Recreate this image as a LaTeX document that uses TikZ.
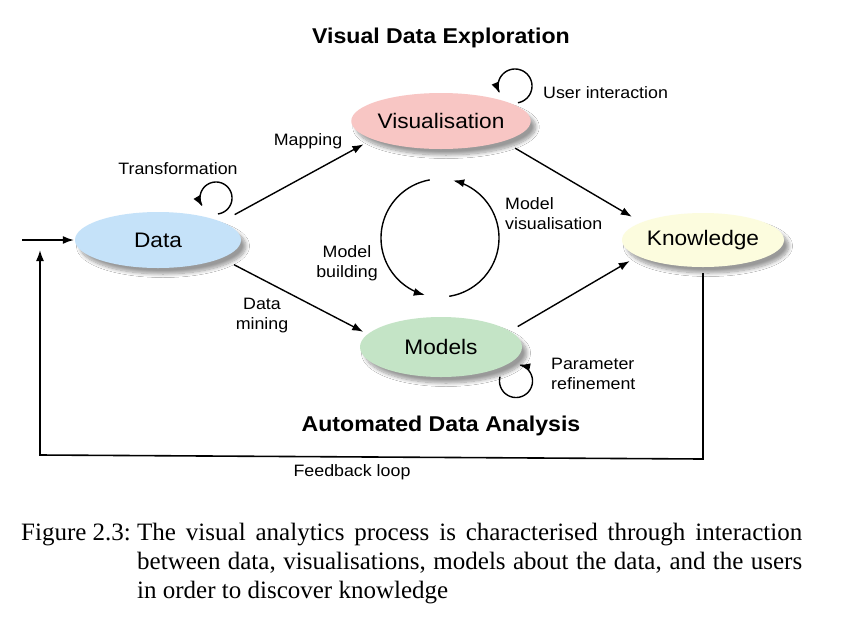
\documentclass[tikz,border=0pt]{standalone}
\usepackage{fontspec}
\setmainfont{Liberation Serif}
\newfontfamily\sansf[FakeStretch=1.08]{Liberation Sans}
\usetikzlibrary{arrows.meta,shapes.geometric,shadows.blur}
\definecolor{datac}{RGB}{197,226,249}
\definecolor{visc}{RGB}{248,198,196}
\definecolor{modc}{RGB}{196,228,198}
\definecolor{knc}{RGB}{252,252,222}
\begin{document}
\begin{tikzpicture}[x=1pt,y=-1pt,
  proc/.style={ellipse, inner sep=0pt, font=\sansf\fontsize{21}{25}\selectfont,
    blur shadow={shadow xshift=5pt,shadow yshift=-6pt,shadow blur steps=10,shadow blur radius=3.5pt,shadow opacity=40}},
  lbl/.style={font=\sansf\fontsize{16.5}{20}\selectfont, inner sep=0pt},
  ttl/.style={font=\sansf\bfseries\fontsize{21.4}{25}\selectfont, inner sep=0pt},
  captxt/.style={font=\fontsize{25}{29}\selectfont, inner sep=0pt, anchor=base west},
  arr/.style={line width=1.4pt, -{Latex[length=11pt,width=8pt]}},
]
\fill[white] (0,0) rectangle (849,630);
\useasboundingbox (0,0) rectangle (849,630);

% nodes
\node[proc, fill=datac, minimum width=166pt, minimum height=56pt] (D) at (158,240) {Data};
\node[proc, fill=visc, minimum width=162pt, minimum height=56pt] (V) at (441,121) {Visualisation};
\node[proc, fill=modc, minimum width=162pt, minimum height=60pt] (M) at (441,347) {Models};
\node[proc, fill=knc, minimum width=162pt, minimum height=54pt] (K) at (703,240) {Knowledge};

% titles
\node[ttl] (t1) at (441,38) {Visual Data Exploration};
\node[ttl] (t2) at (441,426) {Automated Data Analysis};

% main connectors
\draw[arr, shorten <=15pt, shorten >=10.5pt] (D.16) -- (V.195);
\draw[arr, shorten <=14pt, shorten >=5pt] (D.344) -- (M.170);
\draw[arr, shorten <=13.5pt, shorten >=11pt] (V.342) -- (K.164);
\draw[arr, shorten <=9pt, shorten >=9.5pt] (M.13) -- (K.194);

% feedback loop
\coordinate (fbR) at (703,459);
\coordinate (fbL) at (40,455);
\coordinate (fbT) at (40,250);
\coordinate (inS) at (22,240);
\draw[arr, line width=1.6pt, shorten <=6pt] (K.south) -- (fbR) -- (fbL) -- (fbT);
\draw[arr, shorten >=1pt] (inS) -- (D.west);

% middle cycle
\draw[arr] plot[domain=100:255, samples=60, smooth] ({440+59*cos(\x)},{238-59*sin(\x)});
\draw[arr] plot[domain=-81:77, samples=60, smooth] ({440+59*cos(\x)},{238-59*sin(\x)});

% self loops
\draw[arr] plot[domain=-83:212, samples=60, smooth] ({216+16*cos(\x)},{198-16*sin(\x)});
\draw[arr] plot[domain=-80:205, samples=60, smooth] ({515+17*cos(\x)},{86-17*sin(\x)});
\draw[arr] plot[domain=165:439, samples=60, smooth] ({516+16.5*cos(\x)},{381-16.5*sin(\x)});

% labels
\node[lbl] (lt) at (178,169) {Transformation};
\node[lbl] (lm) at (308,141) {Mapping};
\node[lbl, anchor=west] (lu) at (543,93) {User interaction};
\node[lbl, align=left, anchor=west] (lmv) at (505,214) {Model\\visualisation};
\node[lbl, align=center] (lmb) at (347,263) {Model\\building};
\node[lbl, align=center] (ldm) at (262,316) {Data\\mining};
\node[lbl, align=left, anchor=west] (lpr) at (551,374) {Parameter\\refinement};
\node[lbl] (lfb) at (352,472) {Feedback loop};

% caption
\node[captxt] (fig) at (21,540) {Figure 2.3:};
\node[captxt] (c1) at (137,540) {\makebox[665pt][s]{The visual analytics process is characterised through interaction}};
\node[captxt] (c2) at (137,569) {\makebox[665pt][s]{between data, visualisations, models about the data, and the users}};
\node[captxt] (c3) at (137,598) {in order to discover knowledge};
\end{tikzpicture}
\end{document}
